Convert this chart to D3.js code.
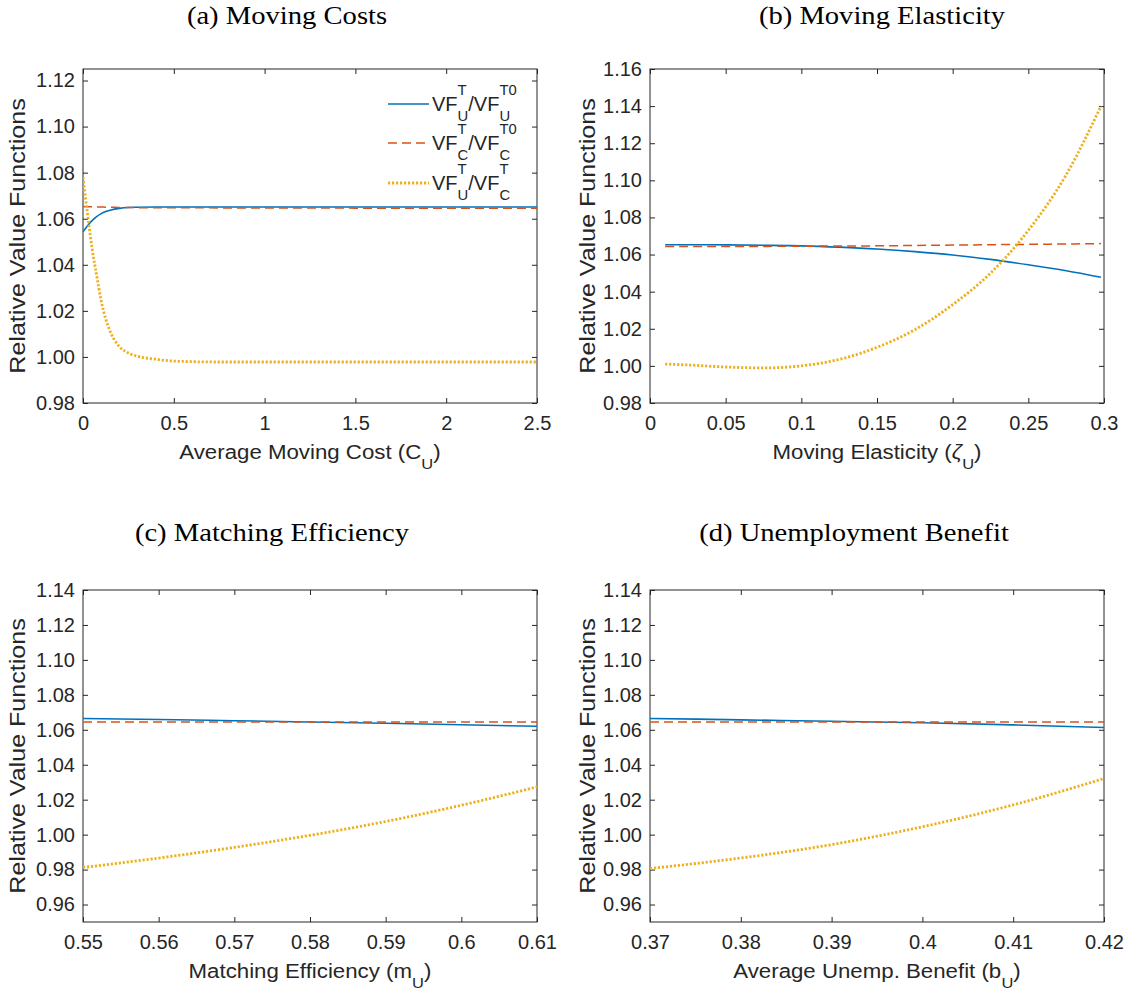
<!DOCTYPE html>
<html>
<head>
<meta charset="utf-8">
<script src="https://cdn.jsdelivr.net/npm/d3@7"></script>
<style>
  body { margin: 0; background: #fff; }
  svg { display: block; }
  .tick text { font-family: "Liberation Sans", Arial, sans-serif; font-size: 20px; fill: #262626; }
  .tick line { stroke: #262626; }
</style>
</head>
<body>
<script>
// DATA
const aX = [0, 0.025, 0.05, 0.075, 0.1, 0.125, 0.15, 0.2, 0.25, 0.3, 0.4, 0.5, 0.75, 1, 1.5, 2, 2.5];
const aBlue = [1.0543, 1.0570, 1.0592, 1.0609, 1.0622, 1.0631, 1.0637, 1.0645, 1.0649, 1.0650, 1.0651, 1.0651, 1.0651, 1.0651, 1.0651, 1.0651, 1.0651];
const aOrange = [1.0653, 1.0652, 1.0652, 1.0651, 1.0651, 1.0650, 1.0650, 1.0649, 1.0649, 1.0648, 1.0648, 1.0648, 1.0647, 1.0647, 1.0646, 1.0646, 1.0646];
const aYellow = [1.0780, 1.0620, 1.0470, 1.0355, 1.0245, 1.0165, 1.0110, 1.0045, 1.0017, 1.0003, 0.9990, 0.9982, 0.9978, 0.9978, 0.9978, 0.9978, 0.9978];

const bX = [0.01, 0.025, 0.05, 0.075, 0.1, 0.125, 0.15, 0.175, 0.2, 0.225, 0.25, 0.275, 0.298];
const bBlue = [1.0653, 1.0653, 1.0652, 1.0650, 1.0647, 1.0640, 1.0630, 1.0616, 1.0598, 1.0574, 1.0545, 1.0513, 1.0478];
const bOrange = [1.0643, 1.0643, 1.0644, 1.0644, 1.0645, 1.0646, 1.0647, 1.0649, 1.0651, 1.0653, 1.0655, 1.0657, 1.0659];
const bYellow = [1.0010, 1.0005, 0.9994, 0.9989, 1.0000, 1.0035, 1.0100, 1.0195, 1.0330, 1.0500, 1.0730, 1.1030, 1.1400];

const cX = [0.55, 0.56, 0.57, 0.58, 0.59, 0.60, 0.61];
const cBlue = [1.0665, 1.0659, 1.0652, 1.0645, 1.0637, 1.0629, 1.0620];
const cOrange = [1.0645, 1.0645, 1.0645, 1.0645, 1.0645, 1.0645, 1.0645];
const cYellow = [0.9812, 0.9866, 0.9927, 0.9996, 1.0075, 1.0168, 1.0273];

const dX = [0.37, 0.38, 0.39, 0.40, 0.41, 0.42];
const dBlue = [1.0665, 1.0657, 1.0649, 1.0640, 1.0628, 1.0613];
const dOrange = [1.0645, 1.0645, 1.0645, 1.0645, 1.0645, 1.0645];
const dYellow = [0.9806, 0.9866, 0.9943, 1.0045, 1.0170, 1.0321];

// TICKS
const aXTicks = [0, 0.5, 1, 1.5, 2, 2.5];
const bXTicks = [0, 0.05, 0.1, 0.15, 0.2, 0.25, 0.3];
const cXTicks = [0.55, 0.56, 0.57, 0.58, 0.59, 0.6, 0.61];
const dXTicks = [0.37, 0.38, 0.39, 0.4, 0.41, 0.42];
const abYTicks = [0.98, 1.00, 1.02, 1.04, 1.06, 1.08, 1.10, 1.12, 1.14, 1.16];
const cdYTicks = [0.96, 0.98, 1.00, 1.02, 1.04, 1.06, 1.08, 1.10, 1.12, 1.14];

const titles = ["(a) Moving Costs", "(b) Moving Elasticity", "(c) Matching Efficiency", "(d) Unemployment Benefit"];
const xLabels = [
  [{t: "Average Moving Cost (C"}, {sub: "U"}, {t: ")"}],
  [{t: "Moving Elasticity ("}, {t: "ζ", italic: true}, {sub: "U"}, {t: ")"}],
  [{t: "Matching Efficiency (m"}, {sub: "U"}, {t: ")"}],
  [{t: "Average Unemp. Benefit (b"}, {sub: "U"}, {t: ")"}]
];
const legendLabels = [
  [{t: "VF"}, {sup: "T", sub: "U"}, {t: "/VF"}, {sup: "T0", sub: "U"}],
  [{t: "VF"}, {sup: "T", sub: "C"}, {t: "/VF"}, {sup: "T0", sub: "C"}],
  [{t: "VF"}, {sup: "T", sub: "U"}, {t: "/VF"}, {sup: "T", sub: "C"}]
];

const WIDTH = 1134;
const HEIGHT = 998;
const SANS = '"Liberation Sans", Arial, sans-serif';
const SERIF = '"Liberation Serif", "Times New Roman", serif';
const TEXT = "#262626";

const seriesStyle = [
  {color: "#0072BD", width: 1.6, dash: null},
  {color: "#D95319", width: 1.5, dash: "9,5"},
  {color: "#EDB120", width: 2.8, dash: "2.2,1.8"}
];

const panels = [
  {x: aX, ys: [aBlue, aOrange, aYellow], xd: [0, 2.5], yd: [0.98, 1.125], xt: aXTicks, yt: abYTicks.filter(v => v <= 1.125),
   left: 83, right: 537, top: 69, bottom: 403, title: [287, 24], yl: 18},
  {x: bX, ys: [bBlue, bOrange, bYellow], xd: [0, 0.3], yd: [0.98, 1.16], xt: bXTicks, yt: abYTicks,
   left: 650, right: 1104, top: 69, bottom: 403, title: [882, 24], yl: 588},
  {x: cX, ys: [cBlue, cOrange, cYellow], xd: [0.55, 0.61], yd: [0.95, 1.14], xt: cXTicks, yt: cdYTicks,
   left: 83, right: 537, top: 590, bottom: 922, title: [272, 541], yl: 18},
  {x: dX, ys: [dBlue, dOrange, dYellow], xd: [0.37, 0.42], yd: [0.95, 1.14], xt: dXTicks, yt: cdYTicks,
   left: 650, right: 1104, top: 590, bottom: 922, title: [854, 541], yl: 588}
];

const svg = d3.select("body")
  .append("svg")
  .attr("width", WIDTH)
  .attr("height", HEIGHT);

// draws text made of pieces with stacked super/subscripts, returns width
function richText(g, x, y, parts, size, anchor, sx) {
  sx = sx || 1;
  const grp = g.append("g");
  let cx = 0;
  parts.forEach(p => {
    if (p.t !== undefined) {
      const el = grp.append("text")
        .attr("x", cx).attr("y", 0)
        .attr("font-family", SANS)
        .attr("font-size", size)
        .attr("font-style", p.italic ? "italic" : null)
        .attr("fill", TEXT)
        .text(p.t);
      cx += el.node().getComputedTextLength();
    } else {
      let w = 0;
      if (p.sup) {
        const s = grp.append("text")
          .attr("x", cx).attr("y", -size * 0.78)
          .attr("font-family", SANS).attr("font-size", size * 0.74)
          .attr("fill", TEXT).text(p.sup);
        w = Math.max(w, s.node().getComputedTextLength());
      }
      if (p.sub) {
        const s = grp.append("text")
          .attr("x", cx).attr("y", size * 0.48)
          .attr("font-family", SANS).attr("font-size", size * 0.74)
          .attr("fill", TEXT).text(p.sub);
        w = Math.max(w, s.node().getComputedTextLength());
      }
      cx += w;
    }
  });
  const shift = anchor === "middle" ? -cx * sx / 2 : 0;
  grp.attr("transform", "translate(" + (x + shift) + "," + y + ") scale(" + sx + ",1)");
  return cx;
}

panels.forEach((p, i) => {
  const x = d3.scaleLinear().domain(p.xd).range([p.left, p.right]);
  const y = d3.scaleLinear().domain(p.yd).range([p.bottom, p.top]);
  const g = svg.append("g");

  // CLIP
  g.append("clipPath").attr("id", "clip" + i)
    .append("rect")
    .attr("x", p.left).attr("y", p.top)
    .attr("width", p.right - p.left).attr("height", p.bottom - p.top);

  // AXES (ticks inside, mirrored on top/right)
  g.append("g")
    .attr("transform", "translate(0," + p.bottom + ")")
    .call(d3.axisBottom(x).tickValues(p.xt).tickFormat(d3.format("")).tickSize(-5).tickPadding(13))
    .call(a => a.select(".domain").remove());
  g.append("g")
    .attr("transform", "translate(0," + p.top + ")")
    .call(d3.axisTop(x).tickValues(p.xt).tickFormat("").tickSize(-5))
    .call(a => a.select(".domain").remove());
  g.append("g")
    .attr("transform", "translate(" + p.left + ",0)")
    .call(d3.axisLeft(y).tickValues(p.yt).tickFormat(d3.format(".2f")).tickSize(-5).tickPadding(8))
    .call(a => a.select(".domain").remove());
  g.append("g")
    .attr("transform", "translate(" + p.right + ",0)")
    .call(d3.axisRight(y).tickValues(p.yt).tickFormat("").tickSize(-5))
    .call(a => a.select(".domain").remove());

  g.append("rect")
    .attr("x", p.left).attr("y", p.top)
    .attr("width", p.right - p.left).attr("height", p.bottom - p.top)
    .attr("fill", "none")
    .attr("stroke", TEXT)
    .attr("stroke-width", 1);

  // LINES
  const line = d3.line()
    .x(d => x(d[0]))
    .y(d => y(d[1]))
    .curve(d3.curveMonotoneX);

  p.ys.forEach((vals, k) => {
    const st = seriesStyle[k];
    g.append("path")
      .datum(p.x.map((v, j) => [v, vals[j]]))
      .attr("clip-path", "url(#clip" + i + ")")
      .attr("fill", "none")
      .attr("stroke", st.color)
      .attr("stroke-width", st.width)
      .attr("stroke-dasharray", st.dash)
      .attr("d", line);
  });

  // TITLE
  g.append("text")
    .attr("transform", "translate(" + p.title[0] + "," + p.title[1] + ") scale(1.1,1)")
    .attr("text-anchor", "middle")
    .attr("font-family", SERIF)
    .attr("font-size", 26)
    .attr("fill", "#000")
    .text(titles[i]);

  // X LABEL
  richText(g, (p.left + p.right) / 2, p.bottom + 56, xLabels[i], 21, "middle", 1.06);

  // Y LABEL
  g.append("text")
    .attr("transform", "translate(" + (p.yl + 7) + "," + ((p.top + p.bottom) / 2) + ") rotate(-90) scale(1.14,1)")
    .attr("text-anchor", "middle")
    .attr("font-family", SANS)
    .attr("font-size", 22)
    .attr("fill", TEXT)
    .text("Relative Value Functions");
});

// LEGEND (panel a)
const legendY = [104, 143, 183];
legendY.forEach((ly, k) => {
  const st = seriesStyle[k];
  svg.append("line")
    .attr("x1", 388).attr("x2", 429)
    .attr("y1", ly).attr("y2", ly)
    .attr("stroke", st.color)
    .attr("stroke-width", st.width)
    .attr("stroke-dasharray", st.dash);
  richText(svg, 432, ly + 7, legendLabels[k], 20, "start");
});
</script>
</body>
</html>
